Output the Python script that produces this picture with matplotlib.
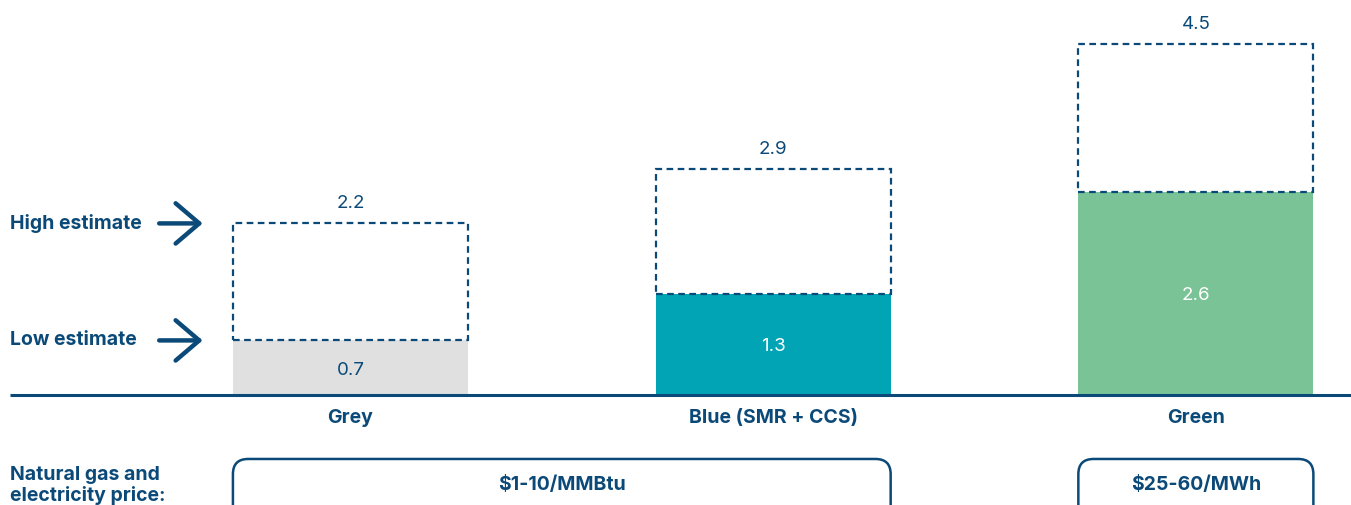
import matplotlib.pyplot as plt
from matplotlib.patches import FancyBboxPatch

plt.rcParams['font.family'] = ['Inter', 'DejaVu Sans']

categories = ["Grey", "Blue (SMR + CCS)", "Green"]
low = [0.7, 1.3, 2.6]
high = [2.2, 2.9, 4.5]
fill_colors = ["#e0e0e0", "#00a4b4", "#79c396"]
low_text_colors = ["#0b4a78", "white", "white"]
price_labels = ["$1-10/MMBtu", "$25-60/MWh"]
price_spans = [(0, 1), (2, 2)]

navy = "#0b4a78"

fig = plt.figure(figsize=(13.51, 5.05), dpi=100)
ax = fig.add_axes([0, 0, 1, 1])
ax.set_xlim(-0.829, 2.367)
ax.set_ylim(-1.41, 5.064)
ax.axis("off")

width = 0.556
x = range(len(categories))

ax.bar(x, low, width=width, color=fill_colors, zorder=1)
ax.bar(x, [h - l for h, l in zip(high, low)], bottom=low, width=width,
       fill=False, edgecolor=navy, linestyle=(0, (3, 2)), linewidth=1.6, zorder=2)

for i in x:
    ax.text(i, low[i] / 2 - 0.03, f"{low[i]}", ha="center", va="center",
            color=low_text_colors[i], fontsize=13.5)
    ax.text(i, high[i] + 0.25, f"{high[i]}", ha="center", va="center",
            color=navy, fontsize=13.5)
    ax.text(i, -0.3, categories[i], ha="center", va="center",
            color=navy, fontsize=14, fontweight="bold")

# baseline
ax.plot([-0.805, 2.367], [0, 0], color=navy, lw=2.2, solid_capstyle="butt", zorder=3)

# side labels with arrows
ax.text(-0.805, high[0], "High estimate", ha="left", va="center",
        color=navy, fontsize=14, fontweight="bold")
ax.text(-0.805, low[0], "Low estimate", ha="left", va="center",
        color=navy, fontsize=14, fontweight="bold")
for yv in (high[0], low[0]):
    ax.annotate("", xy=(-0.343, yv), xytext=(-0.459, yv),
                arrowprops=dict(arrowstyle="->,head_length=1.7,head_width=1.45",
                                color=navy, lw=3.2))

# price boxes
ax.text(-0.805, -1.16, "Natural gas and\nelectricity price:", ha="left", va="center",
        color=navy, fontsize=14, fontweight="bold", linespacing=1.1)
for lab, (a, b) in zip(price_labels, price_spans):
    x0 = a - width / 2
    x1 = b + width / 2
    box = FancyBboxPatch((x0, -2.2), x1 - x0, 1.38,
                         boxstyle="round,pad=0,rounding_size=0.036",
                         mutation_aspect=5.4,
                         fill=False, edgecolor=navy, lw=1.8, clip_on=True)
    ax.add_patch(box)
    ax.text((x0 + x1) / 2, -1.15, lab, ha="center", va="center",
            color=navy, fontsize=14, fontweight="bold")

fig.savefig("out.png", dpi=100)
